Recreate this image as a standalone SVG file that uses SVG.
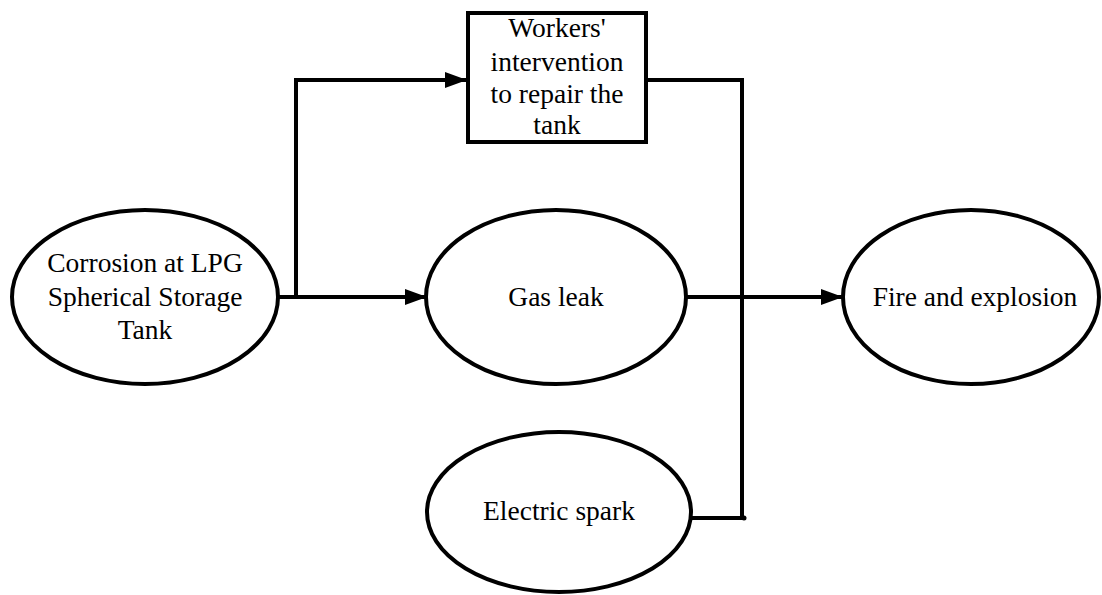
<svg xmlns="http://www.w3.org/2000/svg" width="1102" height="595" viewBox="0 0 1102 595">
<style>
.n{fill:#fff;stroke:#000;stroke-width:4}
.t{font-family:"Liberation Serif","Times New Roman","DejaVu Serif",serif;font-size:27.5px;fill:#000;text-anchor:middle}
.c{fill:none;stroke:#000;stroke-width:4}
</style>
<defs>
<marker id="a" markerUnits="userSpaceOnUse" markerWidth="22" markerHeight="18" refX="22" refY="9" orient="auto">
<path d="M0,1 L22,9 L0,17 Z" fill="#000"/>
</marker>
</defs>
<g id="connectors">
<path class="c" d="M277,297 H427" marker-end="url(#a)"/>
<path class="c" d="M296,297 V80 H467" marker-end="url(#a)"/>
<path class="c" d="M646,80 H742 V518"/>
<path class="c" d="M686,297 H843" marker-end="url(#a)"/>
<path class="c" d="M692,518 H744"/>
<circle cx="744" cy="518" r="2.5" fill="#000"/>
</g>
<g id="corrosion">
<ellipse class="n" cx="145" cy="297" rx="133" ry="87"/>
<text class="t" x="145" y="272">Corrosion at LPG</text>
<text class="t" x="145" y="306">Spherical Storage</text>
<text class="t" x="145" y="339">Tank</text>
</g>
<g id="workers">
<rect class="n" x="468" y="13" width="178" height="129"/>
<text class="t" x="557" y="37">Workers'</text>
<text class="t" x="557" y="71">intervention</text>
<text class="t" x="557" y="103">to repair the</text>
<text class="t" x="557" y="134">tank</text>
</g>
<g id="gasleak">
<ellipse class="n" cx="556" cy="297" rx="130" ry="87"/>
<text class="t" x="556" y="306">Gas leak</text>
</g>
<g id="fire">
<ellipse class="n" cx="971" cy="297" rx="128" ry="87"/>
<text class="t" x="975" y="306">Fire and explosion</text>
</g>
<g id="spark">
<ellipse class="n" cx="559" cy="512" rx="132" ry="80"/>
<text class="t" x="559" y="520">Electric spark</text>
</g>
</svg>
